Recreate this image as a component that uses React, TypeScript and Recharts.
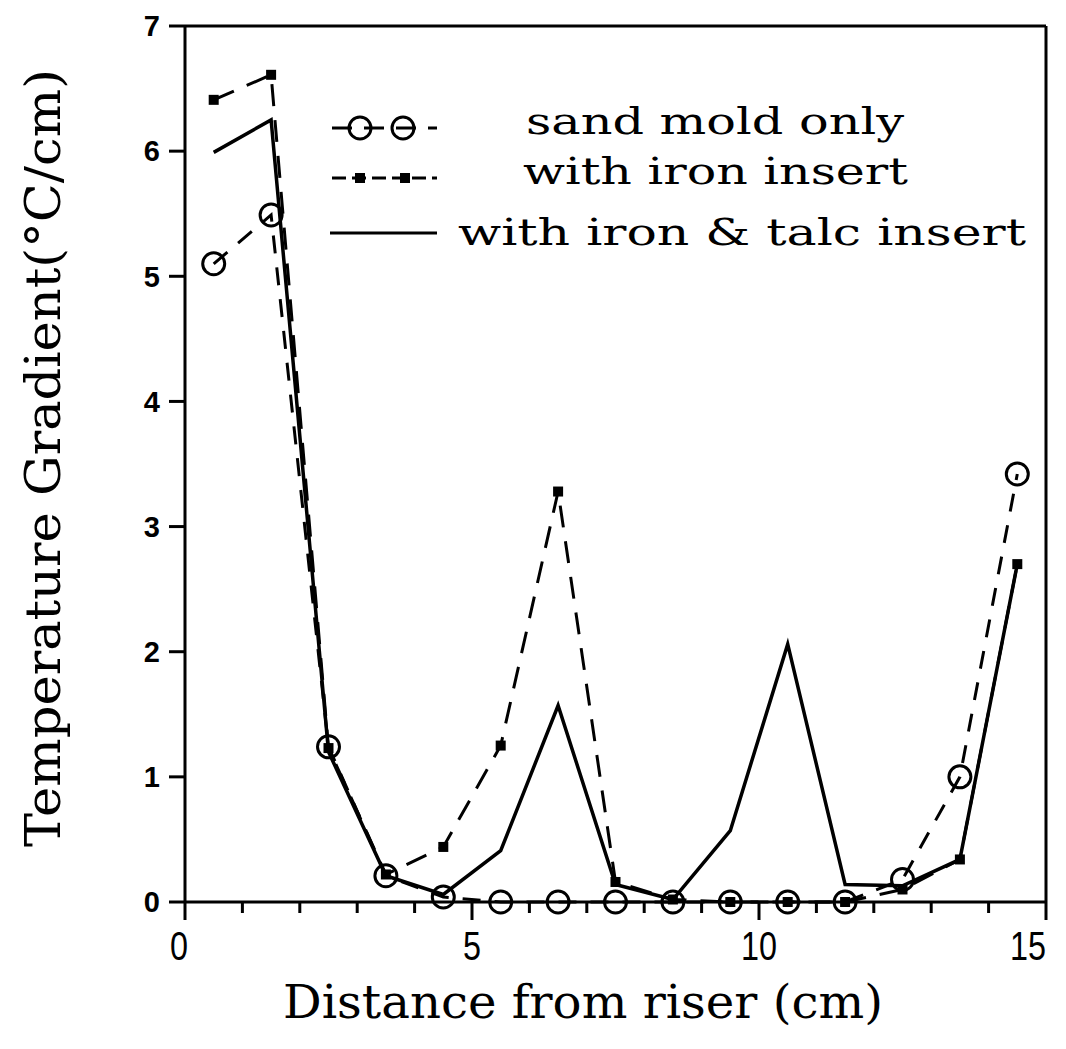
import React from "react";
import { LineChart, Line, XAxis, YAxis, Legend, Label, ReferenceLine } from "recharts";

// distance from riser (cm), measured at the middle of each 1 cm slice
const distance = [0.5, 1.5, 2.5, 3.5, 4.5, 5.5, 6.5, 7.5, 8.5, 9.5, 10.5, 11.5, 12.5, 13.5, 14.5];
const sandMold = [5.1, 5.49, 1.24, 0.21, 0.04, 0, 0, 0, 0, 0, 0, 0, 0.18, 1.0, 3.42];
const ironInsert = [6.41, 6.61, 1.23, 0.22, 0.44, 1.25, 3.28, 0.16, 0.02, 0, 0, 0, 0.1, 0.34, 2.7];
const ironTalc = [5.99, 6.25, 1.2, 0.21, 0.06, 0.41, 1.57, 0.14, 0.02, 0.57, 2.06, 0.14, 0.13, 0.34, 2.7];

const xTicks = [0, 1, 2, 3, 4, 5, 6, 7, 8, 9, 10, 11, 12, 13, 14, 15];
const xMajor = [0, 5, 10, 15];
const yTicks = [0, 1, 2, 3, 4, 5, 6, 7];

const names = ["sand mold only", "with iron insert", "with iron & talc insert"];

const data = distance.map((d, i) => ({
  d,
  sand: sandMold[i],
  iron: ironInsert[i],
  talc: ironTalc[i],
}));

const serif = "'DejaVu Serif', serif";
const INK = "#000";

function XTick(props: any) {
  const { x, y, payload } = props;
  const v = payload.value;
  const major = xMajor.includes(v);
  const label = String(v);
  // last label is pulled in a bit so it stays on the page, like the original
  const lx = v === 15 ? x - 18 : v === 0 ? x - 6 : x;
  return (
    <g>
      <line x1={x} x2={x} y1={y} y2={y + (major ? 18 : 11)} stroke={INK} strokeWidth={3} />
      {major && (
        <text
          x={lx}
          y={y + 58}
          textAnchor="middle"
          fontFamily="'Liberation Sans', sans-serif"
          fontSize={41}
          fill={INK}
          textLength={label.length * 18}
          lengthAdjust="spacingAndGlyphs"
        >
          {label}
        </text>
      )}
    </g>
  );
}

function Square(props: any) {
  const { cx, cy } = props;
  if (cx == null || cy == null) return <g />;
  return <rect x={cx - 5} y={cy - 5} width={10} height={10} fill={INK} />;
}

function Circle(props: any) {
  const { cx, cy } = props;
  if (cx == null || cy == null) return <g />;
  return <circle cx={cx} cy={cy} r={11} fill="none" stroke={INK} strokeWidth={3} />;
}

function renderLegend() {
  return (
    <svg width={1066} height={300} style={{ display: "block" }}>
      {/* sand mold only */}
      <line x1={332} x2={437} y1={128} y2={128} stroke={INK} strokeWidth={3} strokeDasharray="20 12" />
      <circle cx={360} cy={128} r={11} fill="none" stroke={INK} strokeWidth={3} />
      <circle cx={403} cy={128} r={11} fill="none" stroke={INK} strokeWidth={3} />
      <text x={526} y={134} fontFamily={serif} fontSize={37} textLength={378} lengthAdjust="spacingAndGlyphs">
        {names[0]}
      </text>
      {/* with iron insert */}
      <line x1={332} x2={437} y1={178} y2={178} stroke={INK} strokeWidth={3} strokeDasharray="14 6" />
      <rect x={355} y={173} width={10} height={10} fill={INK} />
      <rect x={400} y={173} width={10} height={10} fill={INK} />
      <text x={523} y={184} fontFamily={serif} fontSize={37} textLength={385} lengthAdjust="spacingAndGlyphs">
        {names[1]}
      </text>
      {/* with iron & talc insert */}
      <line x1={330} x2={437} y1={233} y2={233} stroke={INK} strokeWidth={3} />
      <text x={458} y={245} fontFamily={serif} fontSize={37} textLength={568} lengthAdjust="spacingAndGlyphs">
        {names[2]}
      </text>
    </svg>
  );
}

export default function App() {
  return (
    <div style={{ position: "absolute", left: 0, top: 0, background: "#fff" }}>
      <LineChart width={1066} height={1049} data={data} margin={{ top: 26, right: 20, left: 0, bottom: 0 }}>
        <XAxis
          dataKey="d"
          type="number"
          domain={[0, 15]}
          ticks={xTicks}
          interval={0}
          tickSize={0}
          tickMargin={0}
          height={147}
          tickLine={false}
          axisLine={{ stroke: INK, strokeWidth: 3 }}
          tick={<XTick />}
        >
          <Label
            content={() => (
              <text x={583} y={1018} textAnchor="middle" fontFamily={serif} fontSize={46} fill={INK}
                textLength={600} lengthAdjust="spacingAndGlyphs">
                Distance from riser (cm)
              </text>
            )}
          />
        </XAxis>
        <YAxis
          type="number"
          domain={[0, 7]}
          ticks={yTicks}
          interval={0}
          width={185}
          tickSize={16}
          tickMargin={9}
          tickLine={{ stroke: INK, strokeWidth: 3 }}
          axisLine={{ stroke: INK, strokeWidth: 3 }}
          tick={{ fontFamily: "'Liberation Sans', Arial, sans-serif", fontWeight: "bold", fontSize: 29, fill: INK }}
        >
          <Label
            content={() => (
              <text x={60} y={458} transform="rotate(-90 60 458)" textAnchor="middle" fontFamily={serif}
                fontSize={48} fill={INK} textLength={778} lengthAdjust="spacingAndGlyphs">
                Temperature Gradient(°C/cm)
              </text>
            )}
          />
        </YAxis>
        {/* frame: top and right edges of the plot box */}
        <ReferenceLine y={7} stroke={INK} strokeWidth={3} />
        <ReferenceLine x={15} stroke={INK} strokeWidth={3} />
        <Legend
          layout="horizontal"
          verticalAlign="middle"
          align="center"
          content={renderLegend}
          wrapperStyle={{ position: "absolute", left: 0, top: 0, width: 1066, height: 300 }}
        />
        <Line dataKey="talc" name={names[2]} stroke={INK} strokeWidth={3.5} dot={false}
          isAnimationActive={false} />
        <Line dataKey="iron" name={names[1]} stroke={INK} strokeWidth={3} strokeDasharray="22 14"
          dot={<Square />} isAnimationActive={false} />
        <Line dataKey="sand" name={names[0]} stroke={INK} strokeWidth={3} strokeDasharray="18 14"
          dot={<Circle />} isAnimationActive={false} />
      </LineChart>
    </div>
  );
}
